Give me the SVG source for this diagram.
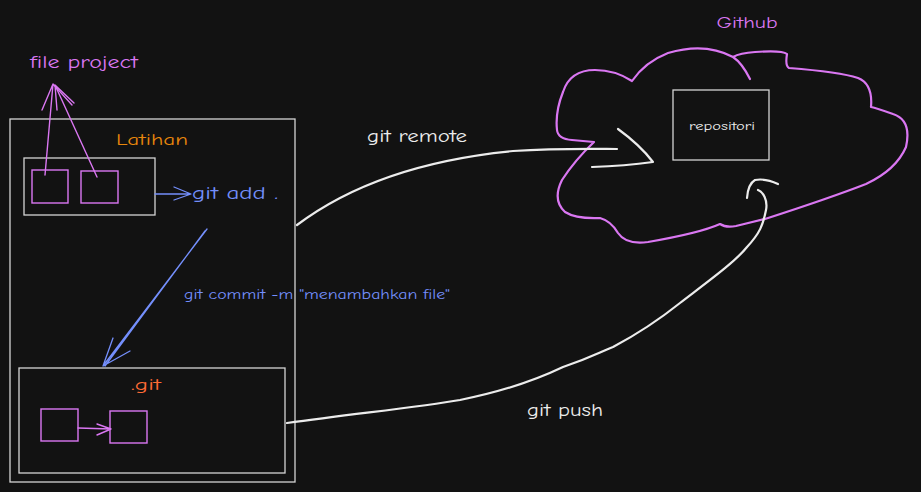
<svg xmlns="http://www.w3.org/2000/svg" width="921" height="492" viewBox="0 0 921 492">
<style>
.bg{fill:#121212}
.box{fill:none;stroke:#d4d4d4;stroke-width:1.3}
.pbox{fill:none;stroke:#da77f2;stroke-width:1.4}
.pl{fill:none;stroke:#da77f2;stroke-width:1.4;stroke-linecap:round;stroke-linejoin:round}
.bl{fill:none;stroke:#748ffc;stroke-width:1.3;stroke-linecap:round;stroke-linejoin:round}
.wl{fill:none;stroke:#ececec;stroke-width:2.2;stroke-linecap:round;stroke-linejoin:round}
.cloud{fill:none;stroke:#da77f2;stroke-width:2.2;stroke-linecap:round;stroke-linejoin:round}
text{font-family:"Comic Neue","Lato","Liberation Sans",sans-serif}
.t-p{fill:#da77f2}
.t-b{fill:#748ffc}
.t-w{fill:#ececec}
</style>
<rect class="bg" x="0" y="0" width="921" height="492"/>

<g id="latihan">
  <rect class="box" x="10" y="119" width="285" height="363"/>
  <text x="152" y="145" font-size="16" text-anchor="middle" fill="#e8870c" textLength="72" lengthAdjust="spacingAndGlyphs">Latihan</text>
</g>

<g id="file-project-label">
  <text x="30" y="68" font-size="19" class="t-p" textLength="108" lengthAdjust="spacingAndGlyphs">file project</text>
</g>

<g id="working-dir">
  <rect class="box" x="24" y="158" width="131" height="57"/>
  <rect class="pbox" x="32" y="170" width="36" height="33"/>
  <rect class="pbox" x="81" y="171" width="37" height="32"/>
</g>

<g id="git-dir">
  <rect class="box" x="19" y="368" width="266" height="105"/>
  <text x="146" y="390" font-size="16" text-anchor="middle" fill="#ff6b35" textLength="30" lengthAdjust="spacingAndGlyphs">.git</text>
  <rect class="pbox" x="41" y="409" width="37" height="32"/>
  <rect class="pbox" x="110" y="411" width="37" height="32"/>
</g>

<g id="github">
  <text x="747" y="28" font-size="16" text-anchor="middle" class="t-p" textLength="61" lengthAdjust="spacingAndGlyphs">Github</text>
  <path class="cloud" d="M750 79 Q742 63 733 57 Q705 42 668 53 Q645 62 632 81 Q615 70 595 70 Q570 70 563 92 Q555 112 557 130 Q558 139 572 140 L594 142 Q575 160 562 180 Q552 200 565 212 Q576 219 600 218 Q611 221 618 233 Q626 245 648 242 Q700 233 720 224 Q726 228 736 226 L765 219 Q830 198 866 184 Q896 170 906 147 Q912 120 893 114 Q876 108 871 107 Q873 84 858 78 Q840 72 789 68 Q785 66 787 54 Q782 50 755 52 Q740 53 733 57"/>
  <rect class="box" x="673" y="90" width="96" height="70"/>
  <text x="722" y="130" font-size="11" text-anchor="middle" class="t-w" textLength="66" lengthAdjust="spacingAndGlyphs">repositori</text>
</g>

<g id="connectors">
  <!-- file project arrows -->
  <path class="pl" d="M45 175 L53 84 M42 110 L53 84 L72 105"/>
  <path class="pl" d="M97 177 L55 85 M57 110 L55 85 L74 103"/>
  <!-- git add -->
  <path class="bl" d="M155 194 L190 194 M174 187 L191 194 L174 200"/>
  <text x="192" y="199" font-size="17" class="t-b" textLength="86" lengthAdjust="spacingAndGlyphs">git add .</text>
  <!-- git commit -->
  <path class="bl" d="M207 229 L103 366 M205 231 L105 366 M113 338 L103 366 L130 351"/>
  <text x="184" y="299" font-size="14" class="t-b" textLength="266" lengthAdjust="spacingAndGlyphs">git commit -m "menambahkan file"</text>
  <!-- commit arrow inside .git -->
  <path class="pl" d="M78 428 L111 429 M97 424 L111 429 L97 435"/>
  <!-- git remote -->
  <path class="wl" d="M297 225 C350 185 420 160 513 151 C560 148 600 149 617 149"/>
  <path class="wl" d="M618 129 Q640 145 653 162 Q625 166 592 167"/>
  <text x="367" y="142" font-size="17" class="t-w" textLength="100" lengthAdjust="spacingAndGlyphs">git remote</text>
  <!-- git push -->
  <path class="wl" d="M287 423 C360 413 420 407 460 400 C510 390 540 378 563 367 C590 358 600 352 613 347 C645 330 665 315 680 303 C710 280 735 262 747 247 C760 233 763 225 766 210 C768 200 763 192 758 190"/>
  <path class="wl" d="M747 198 Q748 184 755 180 Q765 178 778 184"/>
  <text x="527" y="416" font-size="17" class="t-w" textLength="76" lengthAdjust="spacingAndGlyphs">git push</text>
</g>
</svg>
